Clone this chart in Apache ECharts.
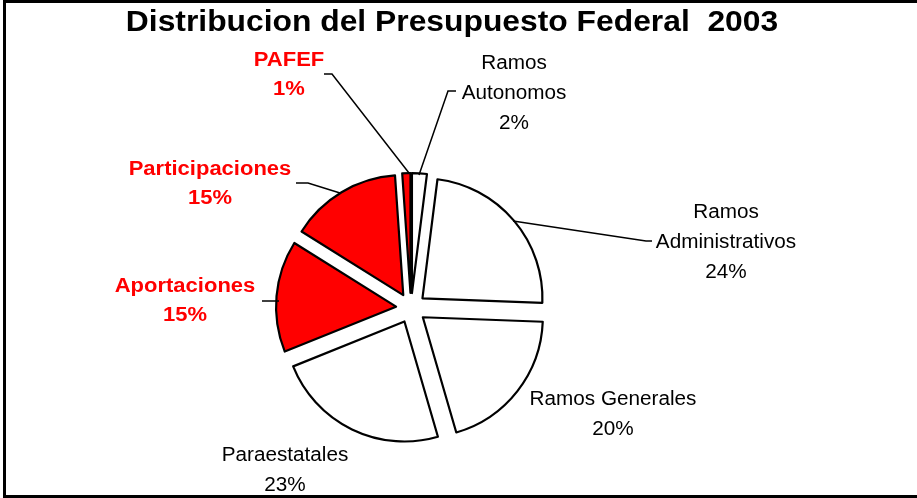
<!DOCTYPE html>
<html>
<head>
<meta charset="utf-8">
<script src="https://cdn.jsdelivr.net/npm/echarts@6/dist/echarts.min.js"></script>
<style>
  html, body { margin: 0; padding: 0; background: #fff; }
  #chart { width: 917px; height: 498px; }
</style>
</head>
<body>
<div id="chart"></div>
<script>
  const titleText = 'Distribucion del Presupuesto Federal  2003';
  // slices, clockwise from 12 o'clock
  const categories = ['Ramos Autonomos', 'Ramos Administrativos', 'Ramos Generales', 'Paraestatales', 'Aportaciones', 'Participaciones', 'PAFEF'];
  const labelNames = ['Ramos\nAutonomos', 'Ramos\nAdministrativos', 'Ramos Generales', 'Paraestatales', 'Aportaciones', 'Participaciones', 'PAFEF'];
  const values = [2, 23.6, 19.9, 23.4, 15, 15, 1.1];
  const isRed = [false, false, false, false, true, true, true];

  // label block centres and leader lines (annotation layout)
  const labelPos = [[514, 93], [726, 242], [613, 414], [285, 470], [185, 301], [210, 184], [289, 75]];
  const leaders = [
    [[456, 91], [448, 91], [419, 175]],
    [[652, 241], [646, 241], [513, 221]],
    null,
    null,
    [[262, 301], [279, 301]],
    [[296, 183], [308, 183], [340, 193]],
    [[324, 74], [332, 74], [409, 173]]
  ];

  let chart = echarts.init(document.getElementById('chart'));

  let total = values.reduce(function (a, b) { return a + b; }, 0);

  let data = categories.map(function (name, i) {
    return {
      name: name,
      value: values[i],
      selected: true,
      itemStyle: { color: isRed[i] ? '#ff0000' : '#ffffff' }
    };
  });

  let graphics = [
    {
      type: 'rect',
      shape: { x: 4.5, y: 1.5, width: 1000, height: 495 },
      style: { fill: 'none', stroke: '#000', lineWidth: 3 },
      silent: true,
      z: 10
    },
    {
      type: 'text',
      x: 452,
      y: 23,
      scaleX: 1.097,
      silent: true,
      style: {
        text: titleText,
        fill: '#000',
        fontFamily: 'Liberation Sans',
        fontSize: 29,
        fontWeight: 'bold',
        align: 'center',
        verticalAlign: 'middle'
      }
    }
  ];

  labelNames.forEach(function (txt, i) {
    let pct = Math.round(values[i] / total * 100);
    graphics.push({
      type: 'text',
      x: labelPos[i][0],
      y: labelPos[i][1],
      scaleX: isRed[i] ? 1.1 : 1.035,
      silent: true,
      z: 5,
      style: {
        text: txt + '\n' + pct + '%',
        fill: isRed[i] ? '#ff0000' : '#000000',
        fontFamily: 'Liberation Sans',
        fontSize: 20,
        fontWeight: isRed[i] ? 'bold' : 'normal',
        lineHeight: isRed[i] ? 29 : 30,
        align: 'center',
        verticalAlign: 'middle'
      }
    });
    if (leaders[i]) {
      graphics.push({
        type: 'polyline',
        shape: { points: leaders[i] },
        style: { stroke: '#000', lineWidth: 1.5, fill: null },
        silent: true,
        z: 5
      });
    }
  });

  let option = {
    animation: false,
    graphic: graphics,
    series: [
      {
        type: 'pie',
        center: [411, 308],
        radius: 120,
        startAngle: 90,
        clockwise: true,
        selectedMode: 'multiple',
        selectedOffset: 15,
        itemStyle: { borderColor: '#000', borderWidth: 2.2 },
        select: { itemStyle: { borderColor: '#000', borderWidth: 2.2 } },
        emphasis: { disabled: true },
        label: { show: false },
        labelLine: { show: false },
        data: data
      }
    ]
  };

  chart.setOption(option);
</script>
</body>
</html>
